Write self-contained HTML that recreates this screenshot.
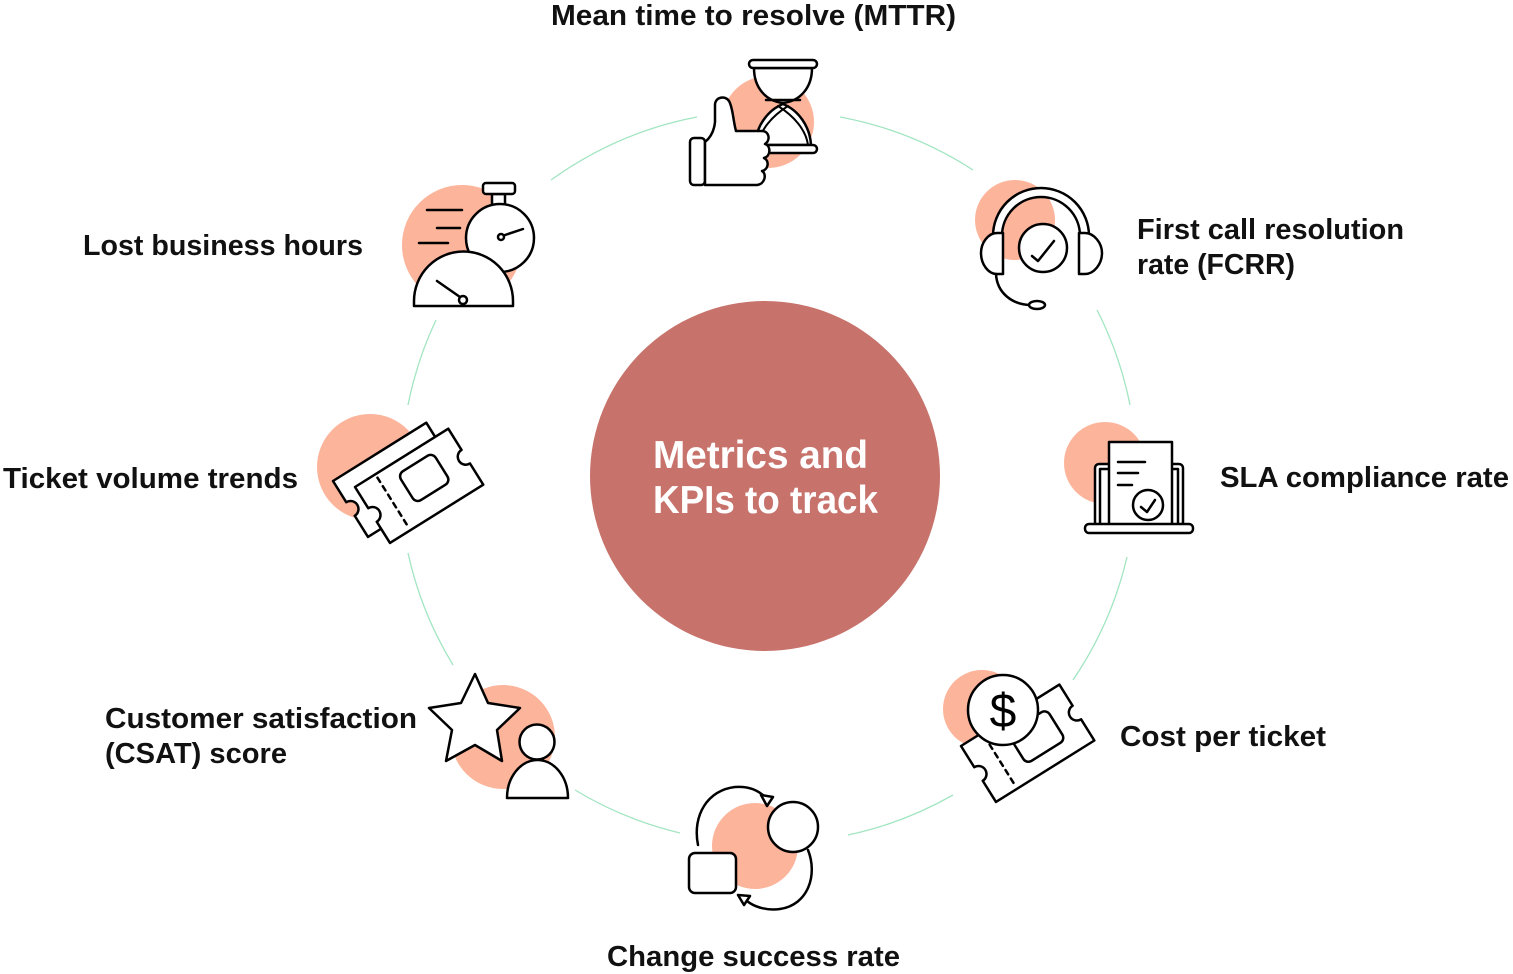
<!DOCTYPE html>
<html>
<head>
<meta charset="utf-8">
<style>
  html, body { margin: 0; padding: 0; background: #ffffff; }
  svg { display: block; }
  .lbl { font-family: "Liberation Sans", sans-serif; font-weight: bold; font-size: 29px; fill: #111; }
  .ctr { font-family: "Liberation Sans", sans-serif; font-weight: bold; font-size: 39px; fill: #ffffff; }
  .ic { fill: #ffffff; stroke: #000; stroke-width: 2.5; stroke-linejoin: round; stroke-linecap: round; }
  .ln { fill: none; stroke: #000; stroke-width: 2.5; stroke-linecap: round; stroke-linejoin: round; }
  .pe { fill: #FCB49B; }
  .gr { fill: none; stroke: #A2E5C2; stroke-width: 1.3; }
</style>
</head>
<body>
<svg width="1513" height="974" viewBox="0 0 1513 974" xmlns="http://www.w3.org/2000/svg">
  <rect width="1513" height="974" fill="#ffffff"/>

  <!-- ring arcs -->
  <path class="gr" d="M551 180 A367 367 0 0 1 697 117"/>
  <path class="gr" d="M840 117 A367 367 0 0 1 973 170"/>
  <path class="gr" d="M1097 310 A367 367 0 0 1 1130 405"/>
  <path class="gr" d="M1127 557 A367 367 0 0 1 1073 680"/>
  <path class="gr" d="M953 795 A367 367 0 0 1 848 835"/>
  <path class="gr" d="M680 833 A367 367 0 0 1 575 790"/>
  <path class="gr" d="M453 665 A367 367 0 0 1 408 553"/>
  <path class="gr" d="M408 405 A367 367 0 0 1 436 320"/>

  <!-- center -->
  <circle cx="765" cy="476" r="175" fill="#C7736C"/>
  <text class="ctr" x="653" y="468" textLength="215" lengthAdjust="spacingAndGlyphs">Metrics and</text>
  <text class="ctr" x="653" y="513" textLength="225" lengthAdjust="spacingAndGlyphs">KPIs to track</text>

  <!-- Icon 1: MTTR -->
  <circle class="pe" cx="768" cy="122" r="46"/>
  <path class="ic" d="M754 68 C754 88 766 101 783 103 C800 101 812 88 812 68 Z"/>
  <path class="ln" d="M766 100 L800 100"/>
  <path class="ic" d="M783 104 C768 110 756 126 755 145 L811 145 C810 126 798 110 783 104 Z"/>
  <path class="ln" style="stroke-width:2" d="M778 106 C794 116 806 130 808 145"/>
  <path class="ln" style="stroke-width:2" d="M788 106 C772 116 760 130 758 145"/>
  <rect class="ic" x="749" y="60" width="68" height="8" rx="4"/>
  <rect class="ic" x="749" y="145" width="68" height="8" rx="4"/>
  <rect class="ic" x="690" y="138" width="15" height="47" rx="4"/>
  <path class="ic" d="M705 142 C710 138 714 132 715 122 L715 105 C715 97 725 95 729 101 C733 108 733 120 736 131 L762 131 C769 131 771 140 765 144 C771 146 771 156 764 158 C770 161 768 170 762 171 C767 174 765 184 757 185 L705 185 Z"/>

  <!-- Icon 2: FCRR -->
  <circle class="pe" cx="1015" cy="220" r="40"/>
  <path class="ic" d="M993 236 A48 48 0 0 1 1089 236 L1080 236 A39 39 0 0 0 1002 236 Z"/>
  <path class="ic" d="M1003 233 L997 233 C988 233 981 243 981 253 C981 264 988 274 997 274 L1003 274 Z"/>
  <path class="ic" d="M1079 233 L1085 233 C1094 233 1102 243 1102 253 C1102 264 1094 274 1085 274 L1079 274 Z"/>
  <circle class="ic" cx="1043" cy="248" r="24"/>
  <path class="ln" d="M1032 256 L1038 261 L1054 241"/>
  <path class="ln" d="M996 274 C997 293 1012 304 1029 305"/>
  <ellipse class="ic" cx="1037" cy="305" rx="8" ry="4"/>

  <!-- Icon 3: Lost business hours -->
  <circle class="pe" cx="462" cy="245" r="60"/>
  <path class="ln" d="M427 210 L462 210 M437 228 L460 228 M419 243 L448 243"/>
  <rect class="ic" x="492" y="194" width="13" height="11"/>
  <rect class="ic" x="483" y="183" width="32" height="11" rx="3"/>
  <circle class="ic" cx="500" cy="238" r="34"/>
  <path class="ln" d="M502 236 L523 229"/>
  <circle class="ic" cx="501" cy="237" r="3"/>
  <path class="ic" d="M414 306 L414 301 A49.5 49.5 0 0 1 513 301 L513 306 Z"/>
  <path class="ln" d="M437 281 L460 297"/>
  <circle class="ic" cx="463" cy="300" r="4"/>

  <!-- Icon 4: Ticket volume -->
  <circle class="pe" cx="370" cy="467" r="53"/>
  <g transform="translate(333 481) rotate(-32)">
    <path class="ic" d="M0 0 L110 0 L110 25 A8 8 0 0 0 110 41 L110 66 L0 66 L0 41 A8 8 0 0 0 0 25 Z"/>
  </g>
  <g transform="translate(355 487) rotate(-32)">
    <path class="ic" d="M0 0 L110 0 L110 25 A8 8 0 0 0 110 41 L110 66 L0 66 L0 41 A8 8 0 0 0 0 25 Z"/>
    <rect class="ic" x="43" y="12" width="41" height="34" rx="6"/>
    <path class="ln" d="M24 4 L24 62" stroke-dasharray="5 5" stroke-linecap="butt"/>
  </g>

  <!-- Icon 5: SLA -->
  <circle class="pe" cx="1105" cy="463" r="41"/>
  <rect class="ic" x="1095" y="464" width="88" height="62" rx="4"/>
  <rect class="ic" x="1100" y="469" width="78" height="57"/>
  <rect class="ic" x="1109" y="442" width="63" height="83"/>
  <path class="ln" d="M1118 462 L1145 462 M1118 473 L1138 473 M1118 485 L1132 485"/>
  <circle class="ic" cx="1148" cy="505" r="15"/>
  <path class="ln" d="M1141 507 L1147 512 L1155 500"/>
  <rect class="ic" x="1085" y="524" width="108" height="9" rx="4"/>

  <!-- Icon 6: Cost per ticket -->
  <circle class="pe" cx="982" cy="709" r="39"/>
  <g transform="translate(961 746) rotate(-32)">
    <path class="ic" d="M0 0 L116 0 L116 25 A8 8 0 0 0 116 41 L116 66 L0 66 L0 41 A8 8 0 0 0 0 25 Z"/>
    <rect class="ic" x="46" y="14" width="46" height="36" rx="6"/>
    <path class="ln" d="M25 4 L25 62" stroke-dasharray="5 5" stroke-linecap="butt"/>
  </g>
  <circle class="ic" cx="1003" cy="710" r="35"/>
  <text x="1003" y="727" text-anchor="middle" font-family="Liberation Sans, sans-serif" font-size="48" fill="#000">$</text>

  <!-- Icon 7: Change success -->
  <circle class="pe" cx="755" cy="846" r="43"/>
  <path class="ln" d="M698 845 C692 815 708 790 735 787 C748 786 758 790 765 797"/>
  <polygon class="ic" points="761,795 773,797 767,806"/>
  <path class="ln" d="M808 850 C818 875 808 905 780 909 C765 911 753 906 747 901"/>
  <polygon class="ic" points="738,895 750,896 744,905"/>
  <circle class="ic" cx="793" cy="827" r="25"/>
  <rect class="ic" x="689" y="853" width="47" height="40" rx="6"/>

  <!-- Icon 8: CSAT -->
  <circle class="pe" cx="503" cy="737" r="52"/>
  <polygon class="ic" points="475,674 488,703 520,708 497,730 502,761 475,745 446,761 452,730 429,708 461,703"/>
  <circle class="ic" cx="537" cy="742" r="17.5"/>
  <path class="ic" d="M507 798 A30.5 38 0 0 1 568 798 Z"/>

  <!-- labels -->
  <text class="lbl" x="551" y="25" textLength="405" lengthAdjust="spacingAndGlyphs">Mean time to resolve (MTTR)</text>
  <text class="lbl" x="1137" y="239" textLength="267" lengthAdjust="spacingAndGlyphs">First call resolution</text>
  <text class="lbl" x="1137" y="274" textLength="158" lengthAdjust="spacingAndGlyphs">rate (FCRR)</text>
  <text class="lbl" x="1220" y="487" textLength="289" lengthAdjust="spacingAndGlyphs">SLA compliance rate</text>
  <text class="lbl" x="1120" y="746" textLength="206" lengthAdjust="spacingAndGlyphs">Cost per ticket</text>
  <text class="lbl" x="607" y="966" textLength="293" lengthAdjust="spacingAndGlyphs">Change success rate</text>
  <text class="lbl" x="105" y="728" textLength="312" lengthAdjust="spacingAndGlyphs">Customer satisfaction</text>
  <text class="lbl" x="105" y="763" textLength="182" lengthAdjust="spacingAndGlyphs">(CSAT) score</text>
  <text class="lbl" x="3" y="488" textLength="295" lengthAdjust="spacingAndGlyphs">Ticket volume trends</text>
  <text class="lbl" x="83" y="255" textLength="280" lengthAdjust="spacingAndGlyphs">Lost business hours</text>
</svg>
</body>
</html>
